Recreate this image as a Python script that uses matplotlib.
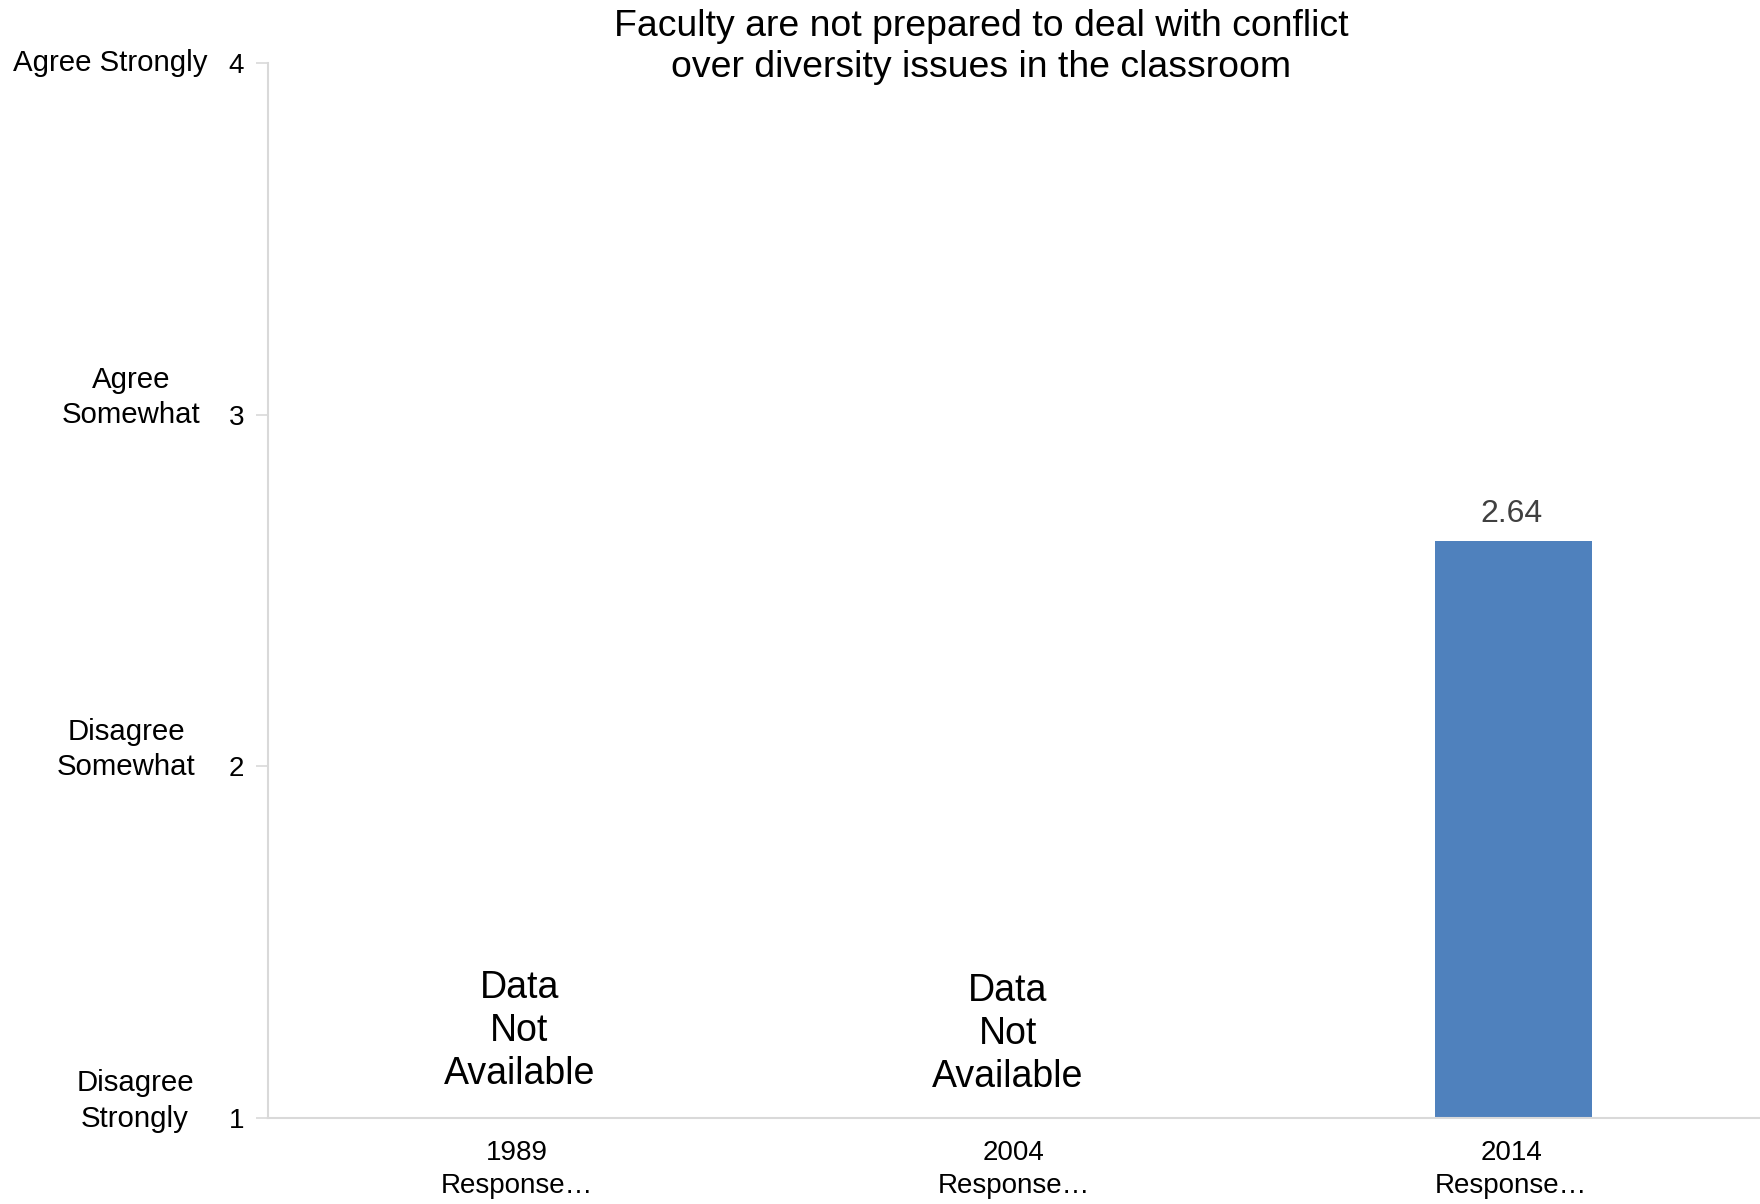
import numpy as np
import matplotlib
matplotlib.use('Agg')
import matplotlib.pyplot as plt
from matplotlib.transforms import blended_transform_factory

plt.rcParams['font.family'] = ['Liberation Sans', 'DejaVu Sans']

# data
years = ['1989', '2004', '2014']
tick_suffix = 'Response…'
values = [np.nan, np.nan, 2.64]
scale_ticks = [1, 2, 3, 4]
scale_labels = ['Disagree\nStrongly', 'Disagree\nSomewhat', 'Agree\nSomewhat', 'Agree Strongly']
title = 'Faculty are not prepared to deal with conflict\nover diversity issues in the classroom'
na_text = 'Data\nNot\nAvailable'

bar_color = '#4f81bd'
spine_color = '#d9d9d9'

fig = plt.figure(figsize=(17.6, 12.04), dpi=100)
ax = fig.add_axes([268 / 1760, 1 - 1118 / 1204, 1 - 268 / 1760, (1118 - 63) / 1204])

x = np.arange(len(years))
na_shift = [(0.005, 1.246), (-0.012, 1.239)]
k = 0
for i, v in enumerate(values):
    if np.isnan(v):
        dx, ny = na_shift[k]
        ax.text(i + dx, ny, na_text, ha='center', va='center',
                fontsize=27, linespacing=1.25, color='black')
        k += 1
    else:
        ax.bar(i + 0.005, v - 1, bottom=1, width=0.315, color=bar_color)
        ax.annotate(f'{v:.2f}', xy=(i, v), xytext=(0, 27), textcoords='offset pixels',
                    ha='center', va='center', fontsize=23, color='#404040')

ax.set_xlim(-0.5, len(years) - 0.5)
ax.set_ylim(1, 4)
ax.set_xticks(x)
ax.set_xticklabels([f'{y}\n{tick_suffix}' for y in years], fontsize=20,
                   linespacing=1.33)
ax.set_yticks(scale_ticks)
ax.set_yticklabels([str(t) for t in scale_ticks], fontsize=20)

ax.tick_params(axis='x', length=0, pad=16)
ax.tick_params(axis='y', length=9, color=spine_color, pad=8.3, width=1.2)

for s in ['top', 'right']:
    ax.spines[s].set_visible(False)
for s in ['left', 'bottom']:
    ax.spines[s].set_color(spine_color)
    ax.spines[s].set_linewidth(1.5)

# descriptive scale labels left of the numbers
trans = blended_transform_factory(ax.transAxes, ax.transData)
label_x = [-133, -142, -137, -158]
for t, lab, dx in zip(scale_ticks, scale_labels, label_x):
    dy = 17 if '\n' in lab else 0
    ax.annotate(lab, xy=(0, t), xycoords=trans, xytext=(dx, dy),
                textcoords='offset pixels', ha='center', va='center',
                fontsize=21.2, linespacing=1.33, annotation_clip=False)

fig.text(981 / 1760, 1 - 47 / 1204, title, ha='center', va='center',
         fontsize=26.9, linespacing=1.21)

fig.savefig('out.png', dpi=100)
